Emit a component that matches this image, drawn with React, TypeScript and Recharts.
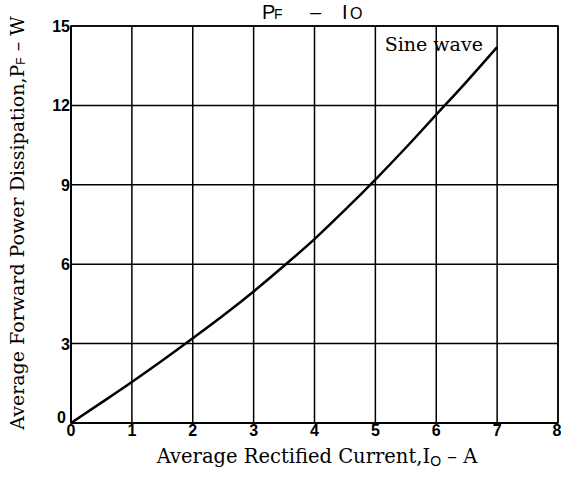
import React from "react";
import {
  LineChart,
  Line,
  XAxis,
  YAxis,
  CartesianGrid,
  ReferenceArea,
  ReferenceDot,
} from "recharts";

// average rectified current I_O (A)
const current = [0, 0.5, 1, 1.5, 2, 2.5, 3, 3.5, 4, 4.5, 5, 5.5, 6, 6.5, 7];
// average forward power dissipation P_F (W), sine wave
const power = [0, 0.77, 1.55, 2.36, 3.2, 4.06, 4.97, 5.94, 6.95, 8.05, 9.2, 10.4, 11.65, 12.9, 14.2];

const xTicks = [0, 1, 2, 3, 4, 5, 6, 7, 8];
const yTicks = [0, 3, 6, 9, 12, 15];

const chartData = current.map((io, i) => ({ io, pf: power[i] }));

const SERIF = "'DejaVu Serif', serif";
const SANS = "'Liberation Sans', Arial, sans-serif";

function XTick({ x, y, payload }: any) {
  return (
    <text x={x} y={y + 13} textAnchor="middle" fontFamily={SANS} fontWeight={700} fontSize={16} fill="#000">
      {payload.value}
    </text>
  );
}

function YTick({ x, y, payload }: any) {
  // the zero label sits a little above the x axis
  const lift = payload.value === 0 ? -6 : 0;
  const shift = payload.value === 0 ? -4 : 0;
  return (
    <text x={x - 1 + shift} y={y + 6 + lift} textAnchor="end" fontFamily={SANS} fontWeight={700} fontSize={16} fill="#000">
      {payload.value}
    </text>
  );
}

function YTitle() {
  const cx = 17;
  const cy = 223;
  return (
    <text
      x={cx}
      y={cy}
      transform={`rotate(-90 ${cx} ${cy})`}
      textAnchor="middle"
      dominantBaseline="central"
      fontFamily={SERIF}
      fontSize={19}
      fill="#000"
    >
      Average Forward Power Dissipation,P
      <tspan fontSize={12} dy={4} fontFamily={SANS}>F</tspan>
      <tspan dy={-4}> – W</tspan>
    </text>
  );
}

function XTitle() {
  return (
    <text x={317} y={463} textAnchor="middle" fontFamily={SERIF} fontSize={19.5} fill="#000">
      Average Rectified Current,I
      <tspan fontSize={14} dy={3} fontFamily={SANS}>O</tspan>
      <tspan dy={-3}> – A</tspan>
    </text>
  );
}

export default function App() {
  return (
    <div style={{ position: "absolute", left: 0, top: 0, width: 561, height: 477, background: "#fff" }}>
      <LineChart
        width={561}
        height={477}
        data={chartData}
        margin={{ top: 26, right: 3, bottom: 24, left: 41 }}
      >
        <CartesianGrid stroke="#000" strokeWidth={1.5} />
        <XAxis
          type="number"
          dataKey="io"
          domain={[0, 8]}
          ticks={xTicks}
          height={30}
          tickLine={false}
          axisLine={{ stroke: "#000", strokeWidth: 1.5 }}
          tick={<XTick />}
          tickSize={0}
          tickMargin={0}
          label={<XTitle />}
        />
        <YAxis
          type="number"
          domain={[0, 15]}
          ticks={yTicks}
          width={30}
          tickLine={false}
          axisLine={{ stroke: "#000", strokeWidth: 1.5 }}
          tick={<YTick />}
          tickSize={0}
          tickMargin={0}
          label={<YTitle />}
        />
        <ReferenceArea x1={0} x2={8} y1={0} y2={15} fill="none" stroke="#000" strokeWidth={1.5} />
        <Line
          type="monotone"
          dataKey="pf"
          stroke="#000"
          strokeWidth={2.5}
          dot={false}
          isAnimationActive={false}
        />
        <ReferenceDot
          x={5.96}
          y={14.3}
          r={0}
          fill="none"
          stroke="none"
          label={{ value: "Sine wave", position: "center", fontFamily: SERIF, fontSize: 19, fill: "#000" }}
        />
      </LineChart>
      <svg width={561} height={26} style={{ position: "absolute", left: 0, top: 0 }}>
        <text y={19} fontFamily={SANS} fill="#000">
          <tspan x={262} fontSize={20}>P</tspan>
          <tspan x={274} fontSize={14}>F</tspan>
          <tspan x={310} fontSize={20}>–</tspan>
          <tspan x={342} fontSize={20}>I</tspan>
          <tspan x={350} fontSize={16}>O</tspan>
        </text>
      </svg>
    </div>
  );
}
